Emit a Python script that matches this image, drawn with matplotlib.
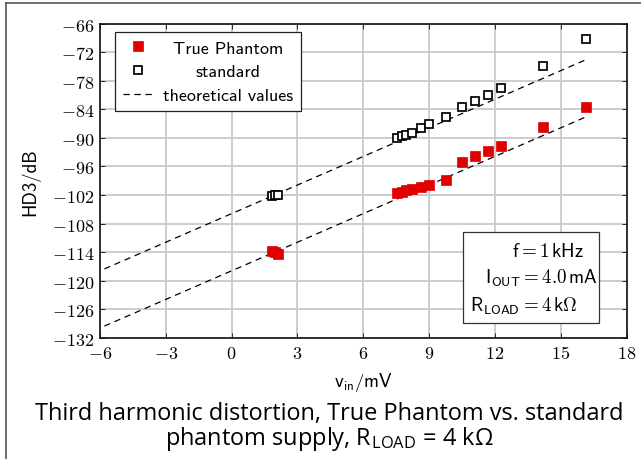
import matplotlib
matplotlib.use("Agg")
import matplotlib.pyplot as plt
from matplotlib.ticker import FixedLocator, FuncFormatter
from matplotlib.lines import Line2D
from matplotlib.patches import Rectangle

plt.rcParams['mathtext.fontset'] = 'cm'

# ---- data ----
vin = [1.84, 1.97, 2.10, 7.52, 7.75, 7.97, 8.20, 8.62, 9.01, 9.78,
       10.49, 11.11, 11.70, 12.26, 14.20, 16.15]
hd3_standard = [-102.1, -102.0, -101.9, -90.1, -89.6, -89.3, -88.9, -88.0,
                -87.1, -85.7, -83.6, -82.2, -80.9, -79.6, -74.9, -69.3]
hd3_true_phantom = [-113.8, -114.0, -114.3, -101.6, -101.3, -101.0, -100.7,
                    -100.4, -99.8, -98.8, -95.1, -93.9, -92.8, -91.7, -87.8, -83.6]
theory_vin = [-5.8, 16.2]
theory_standard = [-117.5, -73.5]
theory_true_phantom = [-129.5, -85.5]

xticks = [-6, -3, 0, 3, 6, 9, 12, 15, 18]
yticks = [-66, -72, -78, -84, -90, -96, -102, -108, -114, -120, -126, -132]

legend_labels = ["True Phantom", "standard", "theoretical values"]
info_lines = [r"$\mathsf{f} = \mathsf{1\,kHz}$",
              r"$\mathsf{I}_{\mathsf{OUT}} = \mathsf{4.0\,mA}$",
              r"$\mathsf{R}_{\mathsf{LOAD}} = \mathsf{4\,k}\Omega$"]
caption = ("Third harmonic distortion, True Phantom vs. standard\n"
           r"phantom supply, R$_{\mathregular{LOAD}}$ = 4 kΩ")

# ---- figure ----
fig = plt.figure(figsize=(6.41, 4.60), dpi=100)
ax = fig.add_axes([100/641, 1-339/460, 526.5/641, 314.5/460])

red = '#e00000'
dash = (0, (5, 3.8))
ax.plot(theory_vin, theory_standard, color='black', lw=0.9, ls=dash, zorder=3)
ax.plot(theory_vin, theory_true_phantom, color='black', lw=0.9, ls=dash, zorder=3,
        label=legend_labels[2])
ax.plot(vin, hd3_true_phantom, ls='none', marker='s', ms=6.6, mfc=red, mec=red,
        mew=0.5, zorder=4, label=legend_labels[0])
ax.plot(vin, hd3_standard, ls='none', marker='s', ms=6.4, mfc='white', mec='black',
        mew=1.25, zorder=4, label=legend_labels[1])

ax.set_xlim(-6, 18)
ax.set_ylim(-132, -66)
ax.xaxis.set_major_locator(FixedLocator(xticks))
ax.yaxis.set_major_locator(FixedLocator(yticks))
fmt = FuncFormatter(lambda v, _: r'$%g$' % v)
ax.xaxis.set_major_formatter(fmt)
ax.yaxis.set_major_formatter(fmt)
ax.tick_params(axis='both', direction='in', length=3.5, width=0.7, color='#222222',
               labelsize=13, top=True, right=True, pad=4)
ax.grid(True, color='#c9c9c9', lw=1.3, zorder=0)
ax.set_axisbelow(True)
for s in ax.spines.values():
    s.set_linewidth(1.2)
    s.set_color('#111111')

ax.set_ylabel('HD3/dB', family='cmss10', fontsize=13.5, labelpad=8)
ax.set_xlabel(r'$\mathsf{v}_{\mathsf{in}}/\mathsf{mV}$', fontsize=13.5, labelpad=6)

h, l = ax.get_legend_handles_labels()
order = [l.index(t) for t in legend_labels]
leg = ax.legend([h[i] for i in order], [l[i] for i in order], loc='upper left',
                bbox_to_anchor=(0.0285, 0.973), borderaxespad=0, fancybox=False,
                framealpha=1, edgecolor='#222222', prop={'family': 'cmss10', 'size': 13},
                handlelength=1.6, handletextpad=0.6, labelspacing=0.44, borderpad=0.45)
leg.get_frame().set_linewidth(0.9)

# info box
ax.add_patch(Rectangle((0.689, 0.048), 0.259, 0.288, transform=ax.transAxes,
                       fc='white', ec='#333333', lw=0.9, zorder=5))
info_x = [0.782, 0.731, 0.703]
info_y = [0.261, 0.175, 0.086]
for s, x, y in zip(info_lines, info_x, info_y):
    ax.text(x, y, s, transform=ax.transAxes, ha='left', va='baseline',
            fontsize=13.7, zorder=6)

fig.text(0.514, 0.071, caption, ha='center', va='center', family='Open Sans',
         fontsize=16.9, linespacing=0.92)

fig.add_artist(Line2D([6/641, 6/641], [0, 1-4/460], transform=fig.transFigure,
                      color='#555555', lw=1.2))
fig.add_artist(Line2D([6/641, 1], [1-4/460, 1-4/460], transform=fig.transFigure,
                      color='#555555', lw=1.2))

# center legend labels within their column, as in the reference
fig.canvas.draw()
texts = leg.get_texts()
widths = [t.get_window_extent().width for t in texts]
wmax = max(widths)
for t, w in zip(texts, widths):
    t.set_x((wmax - w) / 2)

fig.savefig('out.png', dpi=100)
